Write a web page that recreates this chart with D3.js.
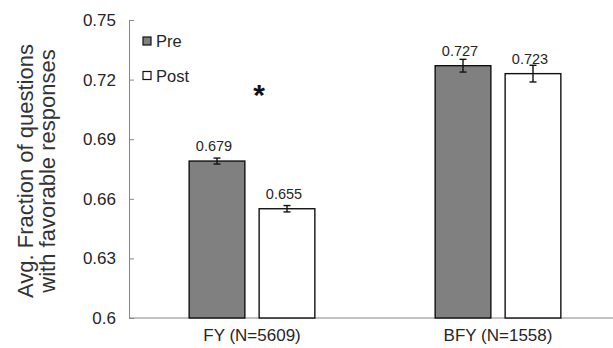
<!DOCTYPE html>
<html>
<head>
<meta charset="utf-8">
<script src="https://cdn.jsdelivr.net/npm/d3@7"></script>
<style>
  body { margin: 0; background: #fff; }
  svg { display: block; font-family: Arial, "Liberation Sans", sans-serif; }
  .axis text { fill: #262626; }
</style>
</head>
<body>
<div id="chart"></div>
<script>
// ---- Data ----
const categories = ['FY (N=5609)', 'BFY (N=1558)'];
const series = ['Pre', 'Post'];
const preValues = [0.679, 0.727];
const postValues = [0.655, 0.723];
const preErrors = [0.0015, 0.0032];
const postErrors = [0.0016, 0.0042];
const yTicks = [0.6, 0.63, 0.66, 0.69, 0.72, 0.75];
const significant = [true, false];

const W = 613, H = 348;
const margin = { top: 20, right: -8, bottom: 30, left: 129 };
const innerWidth = W - margin.left - margin.right;
const innerHeight = H - margin.top - margin.bottom;

const svg = d3.select('#chart').append('svg')
  .attr('width', W).attr('height', H);
const g = svg.append('g').attr('transform', `translate(${margin.left},${margin.top})`);

const fills = { Pre: '#808080', Post: '#ffffff' };

// ---- Scales ----
const x0 = d3.scaleBand()
  .domain(categories)
  .range([0, innerWidth])
  .paddingInner(0.489)
  .paddingOuter(0.2445);

const x1 = d3.scaleBand()
  .domain(series)
  .range([0, x0.bandwidth()])
  .paddingInner(0.204)
  .paddingOuter(0);

const y = d3.scaleLinear()
  .domain([0.6, 0.75])
  .range([innerHeight, 0]);

const rows = categories.map((c, i) => ({
  cat: c,
  sig: significant[i],
  bars: [
    { key: 'Pre', value: preValues[i], err: preErrors[i] },
    { key: 'Post', value: postValues[i], err: postErrors[i] }
  ]
}));

// ---- Axes ----
g.append('g')
  .attr('class', 'axis')
  .call(d3.axisLeft(y).tickValues(yTicks).tickSizeInner(-5).tickSizeOuter(0).tickPadding(13)
    .tickFormat(d => d3.format('')(+d.toFixed(2))))
  .call(a => a.selectAll('line, path').attr('stroke', '#868686'))
  .call(a => a.selectAll('text').attr('font-size', '17px').attr('font-family', 'Arial, "Liberation Sans", sans-serif'));

g.append('g')
  .attr('class', 'axis')
  .attr('transform', `translate(0,${innerHeight})`)
  .call(d3.axisBottom(x0).tickSize(0).tickPadding(11))
  .call(a => a.select('.domain').remove())
  .call(a => a.selectAll('text').attr('font-size', '17px').attr('font-family', 'Arial, "Liberation Sans", sans-serif'));

g.append('line')
  .attr('x1', 0).attr('x2', W - margin.left)
  .attr('y1', innerHeight).attr('y2', innerHeight)
  .attr('stroke', '#868686');

// ---- Bars ----
const groups = g.selectAll('.grp')
  .data(rows)
  .join('g')
  .attr('class', 'grp')
  .attr('transform', d => `translate(${x0(d.cat)},0)`);

groups.selectAll('rect')
  .data(d => d.bars)
  .join('rect')
  .attr('x', d => x1(d.key))
  .attr('width', x1.bandwidth())
  .attr('y', d => y(d.value))
  .attr('height', d => innerHeight - y(d.value))
  .attr('fill', d => fills[d.key])
  .attr('stroke', '#111')
  .attr('stroke-width', 1.4);

// ---- Error bars ----
const eb = groups.selectAll('.err')
  .data(d => d.bars)
  .join('g')
  .attr('class', 'err')
  .attr('stroke', '#111')
  .attr('stroke-width', 1.4);

eb.append('line')
  .attr('x1', d => x1(d.key) + x1.bandwidth() / 2)
  .attr('x2', d => x1(d.key) + x1.bandwidth() / 2)
  .attr('y1', d => y(d.value + d.err))
  .attr('y2', d => y(d.value - d.err));

[1, -1].forEach(s => {
  eb.append('line')
    .attr('x1', d => x1(d.key) + x1.bandwidth() / 2 - 3.5)
    .attr('x2', d => x1(d.key) + x1.bandwidth() / 2 + 3.5)
    .attr('y1', d => y(d.value + s * d.err))
    .attr('y2', d => y(d.value + s * d.err));
});

// ---- Value labels ----
groups.selectAll('.val')
  .data(d => d.bars)
  .join('text')
  .attr('class', 'val')
  .attr('x', d => x1(d.key) + x1.bandwidth() / 2 - 3)
  .attr('y', d => y(d.value) - 10)
  .attr('text-anchor', 'middle')
  .attr('font-size', '14.5px')
  .attr('fill', '#262626')
  .text(d => d3.format('.3f')(d.value));

// ---- Significance marker ----
groups.filter(d => d.sig)
  .append('text')
  .attr('x', x0.bandwidth() / 2 + 7)
  .attr('y', y(0.6855) - 43)
  .attr('text-anchor', 'middle')
  .attr('font-size', '30px')
  .attr('font-weight', 'bold')
  .attr('fill', '#111')
  .text('*');

// ---- Legend ----
const legend = g.append('g').attr('transform', 'translate(14,17)');
series.forEach((s, i) => {
  const row = legend.append('g').attr('transform', `translate(0,${i * 34.5})`);
  row.append('rect')
    .attr('x', 0).attr('y', 0).attr('width', 8).attr('height', 8)
    .attr('fill', fills[s]).attr('stroke', '#111').attr('stroke-width', 1.2);
  row.append('text')
    .attr('x', 13).attr('y', 10)
    .attr('font-size', '16.5px')
    .attr('fill', '#262626')
    .text(s);
});

// ---- Y label ----
const yl = svg.append('text')
  .attr('transform', `translate(0,${margin.top + innerHeight / 2 + 2}) rotate(-90)`)
  .attr('text-anchor', 'middle')
  .attr('font-size', '22px')
  .attr('fill', '#333');
yl.append('tspan').attr('x', 0).attr('y', 33).text('Avg. Fraction of questions');
yl.append('tspan').attr('x', 0).attr('y', 55).text('with favorable responses');
</script>
</body>
</html>
